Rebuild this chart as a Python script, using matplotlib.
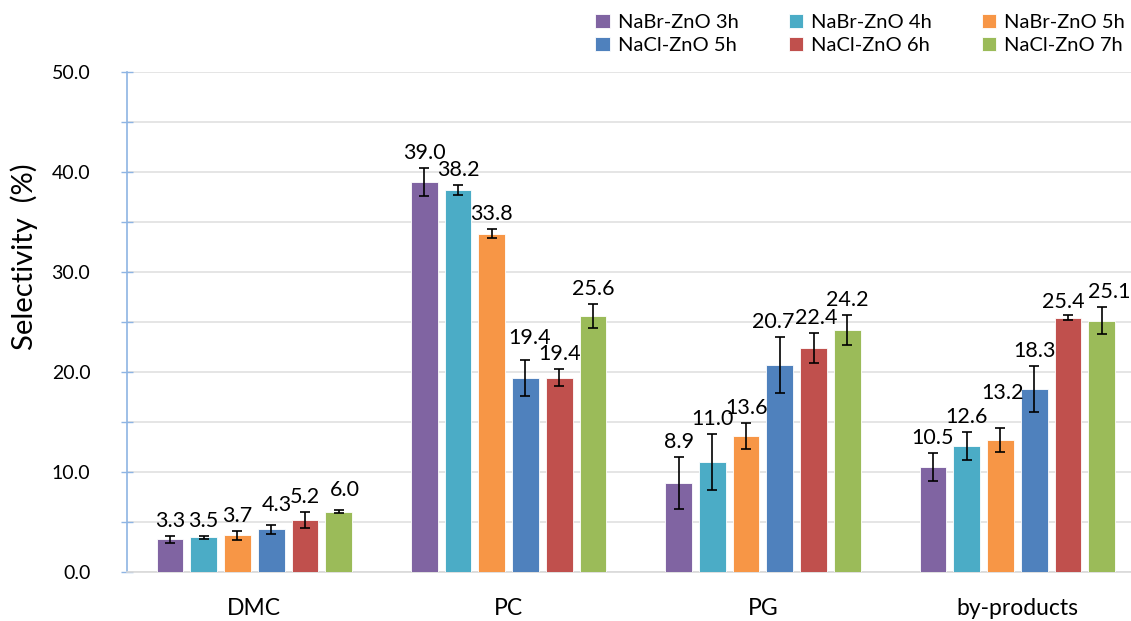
import matplotlib
matplotlib.use("Agg")
import matplotlib.pyplot as plt
import numpy as np

plt.rcParams['font.family'] = ['Lato', 'DejaVu Sans']

categories = ["DMC", "PC", "PG", "by-products"]
series_names = ["NaBr-ZnO 3h", "NaBr-ZnO 4h", "NaBr-ZnO 5h",
                "NaCl-ZnO 5h", "NaCl-ZnO 6h", "NaCl-ZnO 7h"]
series_colors = ["#8064A2", "#4BACC6", "#F79646",
                 "#4F81BD", "#C0504D", "#9BBB59"]

# selectivity (%) per series, in category order
nabr_3h = [3.3, 39.0, 8.9, 10.5]
nabr_4h = [3.5, 38.2, 11.0, 12.6]
nabr_5h = [3.7, 33.8, 13.6, 13.2]
nacl_5h = [4.3, 19.4, 20.7, 18.3]
nacl_6h = [5.2, 19.4, 22.4, 25.4]
nacl_7h = [6.0, 25.6, 24.2, 25.1]

# standard deviations
nabr_3h_err = [0.35, 1.4, 2.6, 1.4]
nabr_4h_err = [0.15, 0.5, 2.8, 1.4]
nabr_5h_err = [0.45, 0.45, 1.3, 1.2]
nacl_5h_err = [0.45, 1.8, 2.8, 2.3]
nacl_6h_err = [0.8, 0.85, 1.5, 0.25]
nacl_7h_err = [0.15, 1.2, 1.5, 1.35]

values = [nabr_3h, nabr_4h, nabr_5h, nacl_5h, nacl_6h, nacl_7h]
errors = [nabr_3h_err, nabr_4h_err, nabr_5h_err,
          nacl_5h_err, nacl_6h_err, nacl_7h_err]

# pixel nudges for crowded value labels: (series, category) -> (dx, dy)
label_nudge = {
    (3, 0): (6, 5), (5, 0): (6, 5),
    (3, 1): (4, 7),
    (3, 2): (-7, 0), (4, 2): (3, 0),
    (2, 3): (2, 20), (4, 3): (-5, -2), (5, 3): (8, 0),
}

fig = plt.figure(figsize=(11.31, 6.21), dpi=100)
ax = fig.add_axes([0.1124, 0.0789, 0.8995, 0.8052])

x = np.arange(len(categories))
bar_w = 0.105
pitch = 0.1326
n = len(values)
px = 72 / fig.dpi

handles = []
for i, (vals, errs, color) in enumerate(zip(values, errors, series_colors)):
    pos = x + (i - (n - 1) / 2) * pitch
    bars = ax.bar(pos, vals, width=bar_w, color=color, edgecolor="white",
                  linewidth=0.6, zorder=3, label=series_names[i])
    ax.errorbar(pos, vals, yerr=errs, fmt="none", ecolor="black",
                elinewidth=1.2, capsize=3.5, capthick=1.2, zorder=4)
    for j, (p, v, e) in enumerate(zip(pos, vals, errs)):
        dx, dy = label_nudge.get((i, j), (0, 0))
        ax.annotate(f"{v:.1f}", xy=(p, v + e),
                    xytext=(dx * px, (5 + dy) * px),
                    textcoords="offset points", ha="center", va="bottom",
                    fontsize=15.5, color="black", zorder=5)
    handles.append(bars)

ax.set_xlim(-0.5, 3.5)
ax.set_ylim(0, 50)
ax.set_yticks(np.arange(0, 50.1, 10))
ax.set_yticks(np.arange(0, 50.1, 5), minor=True)
ax.set_yticklabels([f"{t:.1f}" for t in np.arange(0, 50.1, 10)], fontsize=14)
ax.set_xticks(x)
ax.set_xticklabels(categories, fontsize=16.5)
ax.tick_params(axis="x", length=0, pad=19)
ax.tick_params(axis="y", which="both", direction="inout", length=9,
               width=1, color="#8EB4E3", pad=22)

ax.yaxis.grid(True, which="both", color="#E0E0E0", linewidth=1.2, zorder=0)
ax.set_axisbelow(True)
for side in ("top", "right"):
    ax.spines[side].set_visible(False)
ax.spines["left"].set_color("#8EB4E3")
ax.spines["left"].set_linewidth(1.2)
ax.spines["bottom"].set_color("#D9D9D9")
ax.spines["bottom"].set_linewidth(1.2)

ax.set_ylabel("Selectivity  (%)", fontsize=21)
ax.yaxis.set_label_coords(-0.0875, 0.631)

# legend entries filled row by row: 3h, 4h, 5h / 5h, 6h, 7h
order = [0, 3, 1, 4, 2, 5]
fig.legend(handles=[handles[k] for k in order],
           labels=[series_names[k] for k in order], ncol=3,
           loc="upper left", bbox_to_anchor=(0.514, 1.0),
           frameon=False, fontsize=14.5, handlelength=0.7, handleheight=0.7,
           handletextpad=0.4, columnspacing=2.5, labelspacing=0.3,
           borderaxespad=0.3)

fig.savefig("out.png", dpi=100)
